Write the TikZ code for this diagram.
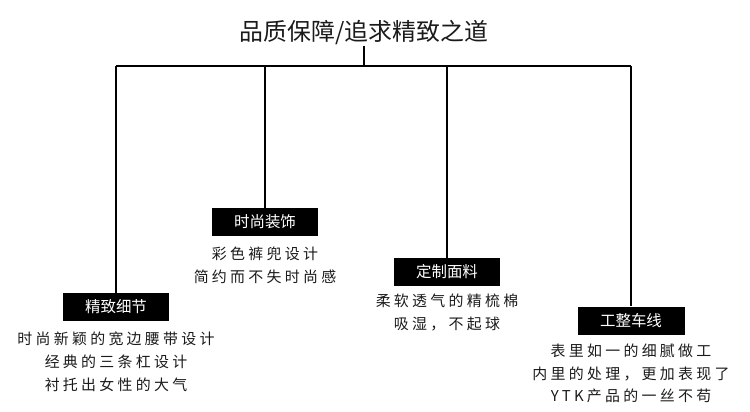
\documentclass[tikz,border=0pt]{standalone}
\usepackage{fontspec}
\setmainfont{Noto Sans CJK SC}
\newfontfamily\descfont[LetterSpace=22]{Noto Sans CJK SC}
\usetikzlibrary{positioning}
\definecolor{ink}{HTML}{1A1A1A}

\begin{document}
\begin{tikzpicture}[x=0.02cm, y=-0.02cm, node distance=0.18cm]

  % Styles
  \tikzset{
    every node/.style={text=ink},
    tag/.style={fill=black, text=white, minimum width=2.14cm, minimum height=0.56cm,
      inner sep=0pt, font=\fontsize{8.8pt}{10pt}\selectfont},
    desc/.style={anchor=north, align=center, inner sep=0pt,
      font=\descfont\fontsize{8.5pt}{13pt}\selectfont},
    link/.style={draw=black, line width=0.6pt}
  }

  \useasboundingbox (0,0) rectangle (750,412);

  % Title
  \node[font=\fontsize{13.6pt}{16pt}\selectfont, inner sep=0pt] (title) at (364,33) {品质保障/追求精致之道};

  % Bar ends
  \coordinate (barL) at (116,66);
  \coordinate (barR) at (631,66);

  % Tags
  \node[tag] (detail) at (116,307) {精致细节};
  \node[tag] (decor) at (265,222) {时尚装饰};
  \node[tag] (fabric) at (447,272) {定制面料};
  \node[tag] (stitch) at (631,320.5) {工整车线};

  % Descriptions
  \node[desc, below=0.2cm of detail] (detail_txt) {时尚新颖的宽边腰带设计\\经典的三条杠设计\\衬托出女性的大气};
  \node[desc, below=0.2cm of decor] (decor_txt) {彩色裤兜设计\\简约而不失时尚感};
  \node[desc, below=0.15cm of fabric] (fabric_txt) {柔软透气的精梳棉\\吸湿，不起球};
  \node[desc, below=0.17cm of stitch] (stitch_txt) {表里如一的细腻做工\\内里的处理，更加表现了\\YTK产品的一丝不苟};

  % Connectors
  \draw[link] (title.south) -- (title.south |- barL);
  \draw[link] (barL) -- (barR);
  \draw[link] (barL) -- (detail.north);
  \draw[link] (decor.north |- barL) -- (decor.north);
  \draw[link] (fabric.north |- barL) -- (fabric.north);
  \draw[link] (barR) -- (stitch.north);

\end{tikzpicture}
\end{document}
